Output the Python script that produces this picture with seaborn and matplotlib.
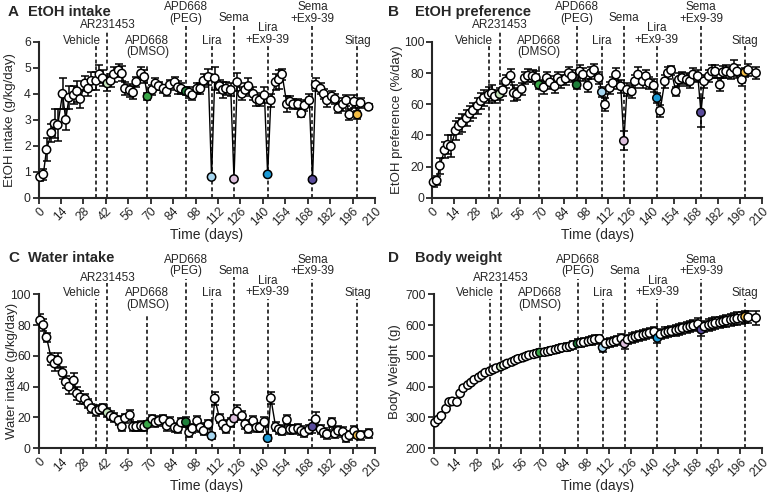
import matplotlib
matplotlib.use("Agg")
import matplotlib.pyplot as plt
import pandas as pd
import seaborn as sns

# sessions (days)
days = [1, 3, 5, 8, 10, 12, 15, 17, 19, 22, 24, 26, 29, 31, 33, 36, 38, 40,
        43, 45, 47, 50, 52, 54, 57, 59, 61, 64, 66, 68, 71, 73, 75, 78, 80, 82,
        85, 87, 89, 92, 94, 96, 99, 101, 103, 106, 108, 110, 113, 115, 117,
        120, 122, 124, 127, 129, 131, 134, 136, 138, 141, 143, 145, 148, 150,
        152, 155, 157, 159, 162, 164, 166, 169, 171, 173, 176, 178, 180, 183,
        185, 187, 190, 192, 194, 197, 199, 201, 206]

etoh_intake = [0.8, 0.9, 1.85, 2.5, 2.85, 2.8, 4.0, 3.0, 3.85, 3.95, 4.1, 3.8,
               4.4, 4.2, 4.5, 4.5, 4.75, 4.6, 4.4, 4.5, 4.75, 4.9, 4.78, 4.2,
               4.14, 4.05, 4.46, 4.78, 4.65, 3.9, 4.15, 4.4, 4.3, 4.2, 4.1, 4.35,
               4.45, 4.25, 4.2, 4.1, 4.05, 3.95, 4.2, 4.2, 4.5, 4.65, 0.8, 4.6,
               4.3, 4.15, 4.2, 4.15, 0.72, 4.45, 4.0, 4.15, 4.3, 4.0, 3.8, 3.75,
               3.95, 0.9, 3.75, 4.45, 4.55, 4.75, 3.6, 3.7, 3.6, 3.6, 3.25, 3.55,
               3.75, 0.7, 4.35, 4.2, 4.0, 3.75, 3.9, 3.8, 3.45, 3.6, 3.75, 3.2,
               3.7, 3.2, 3.65, 3.5]
etoh_intake_sem = [0.15, 0.2, 0.45, 0.35, 0.55, 0.6, 0.6, 0.4, 0.45, 0.35, 0.4, 0.35,
                   0.3, 0.3, 0.35, 0.35, 0.35, 0.3, 0.3, 0.25, 0.3, 0.25, 0.3, 0.25,
                   0.25, 0.25, 0.2, 0.25, 0.25, 0.12, 0.2, 0.2, 0.15, 0.15, 0.2, 0.2,
                   0.2, 0.25, 0.2, 0.15, 0.2, 0.2, 0.2, 0.2, 0.25, 0.3, 0.05, 0.45,
                   0.25, 0.3, 0.25, 0.25, 0.05, 0.35, 0.25, 0.25, 0.3, 0.25, 0.25, 0.2,
                   0.3, 0.05, 0.25, 0.3, 0.35, 0.2, 0.3, 0.2, 0.2, 0.2, 0.15, 0.2,
                   0.25, 0.05, 0.25, 0.2, 0.2, 0.25, 0.2, 0.2, 0.2, 0.25, 0.2, 0.2,
                   0.25, 0.15, 0.2, 0.1]

etoh_pref = [10, 11, 20.5, 30.5, 34, 33, 43, 46, 48, 51, 54, 56,
             59, 62, 64, 66, 67, 65, 66.5, 69, 74.7, 78.3, 67.2, 66.5,
             69.7, 76.8, 78.3, 78, 77, 72.5, 70.8, 76.8, 74, 71.5, 76.8, 74.7,
             76.4, 80, 78, 72.5, 81, 79, 71.9, 80, 82, 76.8, 67.8, 59.7,
             70.4, 73.6, 79, 71.5, 36.5, 69.3, 68.2, 74.7, 79, 74.7, 78, 73.6,
             72, 64, 55.8, 74.7, 80, 81.8, 68.2, 75.7, 76.8, 75.7, 74.7, 79,
             78, 54.7, 74.7, 78, 81, 81, 72.5, 80.5, 81, 80, 83.3, 81,
             75.7, 80.5, 82, 80]
etoh_pref_sem = [3, 3, 5, 5, 6, 7, 6, 5, 6, 5, 5, 5,
                 5, 5, 5, 5, 5, 4, 4, 4, 4, 4, 5, 4,
                 4, 4, 4, 4, 4, 3, 4, 4, 4, 4, 4, 4,
                 4, 4, 4, 3, 4, 4, 4, 4, 4, 4, 3, 4,
                 4, 4, 4, 4, 6, 4, 4, 4, 5, 4, 4, 4,
                 4, 3, 4, 4, 4, 3, 3, 4, 4, 4, 4, 4,
                 4, 9, 4, 4, 4, 4, 4, 4, 4, 4, 5, 4,
                 4, 3, 4, 4]

water_intake = [83, 80, 72, 58, 55, 57, 49, 43, 40, 44, 35.5, 33,
                32, 29, 26, 24, 25, 26, 23, 21, 20, 18, 14, 19.5,
                21.5, 14, 14, 14.5, 14, 15.6, 18.8, 16.7, 17.7, 18.8, 14.5, 17,
                13.4, 12.8, 16.7, 17, 10.2, 12.8, 17.7, 13.4, 11.3, 15.6, 8, 32.3,
                19.3, 15.6, 12.8, 16.7, 19.3, 24, 21, 15.6, 12.8, 17.7, 13.4, 13.4,
                17, 6.5, 32.5, 13.9, 12.3, 11.3, 18.4, 12.3, 12.3, 12.8, 11.3, 10.2,
                12.3, 14, 18.8, 12.3, 10.2, 9.1, 16.7, 9.5, 11.3, 10.6, 6.9, 8.4,
                11.3, 8.4, 8.4, 9.5]
water_intake_sem = [4, 4, 3, 4, 5, 5, 4, 4, 5, 5, 4, 4,
                    3, 3, 3, 3, 3, 3, 3, 3, 3, 3, 3, 3,
                    3, 3, 3, 3, 3, 2, 3, 3, 3, 3, 3, 3,
                    3, 3, 3, 3, 3, 3, 3, 3, 3, 3, 2, 4,
                    3, 3, 3, 3, 2, 4, 3, 3, 3, 3, 3, 3,
                    3, 2, 4, 3, 3, 3, 3, 3, 3, 3, 3, 3,
                    3, 4, 5, 3, 3, 3, 3, 3, 3, 3, 3, 3,
                    3, 2, 3, 3]

body_weight = [283, 293, 305, 328, 350, 352, 350, 378, 395, 405, 413, 422,
               430, 437, 445, 450, 455, 460, 465, 470, 475, 480, 485, 490,
               494, 498, 502, 505, 508, 511, 512, 514, 517, 520, 523, 526,
               528, 531, 535, 540, 542, 544, 547, 550, 553, 555, 527, 540,
               543, 546, 550, 556, 540, 553, 558, 562, 565, 568, 571, 574,
               578, 558, 570, 575, 578, 580, 583, 586, 590, 592, 595, 598,
               603, 585, 595, 600, 603, 606, 608, 611, 614, 617, 619, 621,
               623, 627, 625, 623]
body_weight_sem = [5, 5, 5, 6, 8, 8, 8, 6, 6, 6, 6, 6,
                   6, 7, 7, 7, 7, 7, 8, 8, 8, 8, 8, 9,
                   9, 9, 9, 10, 10, 10, 10, 10, 11, 11, 11, 11,
                   12, 12, 12, 13, 13, 13, 13, 14, 14, 14, 16, 14,
                   15, 15, 15, 15, 18, 16, 16, 16, 16, 16, 17, 17,
                   17, 18, 17, 17, 17, 17, 18, 18, 18, 18, 18, 18,
                   19, 20, 19, 19, 19, 19, 19, 19, 20, 20, 20, 20,
                   20, 20, 20, 22]

drug_days = [36, 43, 68, 92, 108, 122, 143, 171, 199]
drug_labels = ["Vehicle", "AR231453", "APD668\n(DMSO)", "APD668\n(PEG)", "Lira",
               "Sema", "Lira\n+Ex9-39", "Sema\n+Ex9-39", "Sitag"]
drug_colors = {43: "#c6e5bd", 68: "#3aa648", 92: "#1e7f3a", 108: "#a6d6f0",
               122: "#dcbfdc", 143: "#1b9ad6", 171: "#5a4c9c", 199: "#f4bd45"}

# label y (axes frac), dashed line top (axes frac), alignment, x shift (days)
label_layout = [(1.006, 0.97, "right", 2.8), (1.107, 1.075, "center", 0),
                (0.97, 0.86, "center", 0), (1.186, 1.10, "center", 0),
                (1.006, 0.97, "center", 0), (1.15, 1.113, "center", 0),
                (1.05, 0.97, "center", 0), (1.186, 1.10, "center", 0),
                (1.006, 0.97, "center", 0)]

sns.set_theme(style="ticks")
plt.rcParams["font.family"] = ["Liberation Sans", "DejaVu Sans"]


def draw_panel(ax, vals, sem, ylabel, ylim, yticks, ylab_x):
    df = pd.DataFrame({"day": days, "val": vals,
                       "grp": [drug_colors.get(d, "#ffffff") for d in days]})
    ax.errorbar(days, vals, yerr=sem, fmt="none", ecolor="black",
                elinewidth=1.1, capsize=3.2, capthick=1.1, zorder=2)
    sns.lineplot(data=df, x="day", y="val", ax=ax, color="black", lw=1.0,
                 estimator=None, sort=False, zorder=3)
    pal = {c: c for c in df["grp"].unique()}
    sns.scatterplot(data=df, x="day", y="val", hue="grp", palette=pal,
                    edgecolor="black", linewidth=1.1, s=36, legend=False,
                    ax=ax, zorder=4, clip_on=False)
    tr = ax.get_xaxis_transform()
    for d, lab, (ty, ly, ha, dx) in zip(drug_days, drug_labels, label_layout):
        ax.plot([d, d], [0, ly], transform=tr, color="black", lw=1.1,
                ls=(0, (2.6, 1.8)), clip_on=False, zorder=1)
        ax.text(d + dx, ty, lab, transform=tr, ha=ha, va="center",
                fontsize=8.5, linespacing=0.95, clip_on=False)
    ax.set_xlim(0, 210)
    ax.set_ylim(*ylim)
    ax.set_yticks(yticks)
    ax.set_xticks(range(0, 211, 14))
    ax.set_xlabel("Time (days)", fontsize=10, labelpad=0)
    ax.set_ylabel(ylabel, fontsize=9.5)
    ax.yaxis.set_label_coords(ylab_x, 0.5)
    ax.tick_params(axis="both", labelsize=8.8, width=1.3, length=4,
                   direction="out", pad=1.5)
    plt.setp(ax.get_xticklabels(), rotation=45, ha="right",
             rotation_mode="anchor")
    sns.despine(ax=ax)
    for s in ("left", "bottom"):
        ax.spines[s].set_linewidth(1.5)


fig = plt.figure(figsize=(7.7, 4.92), dpi=100)
axA = fig.add_axes([0.05, 0.598, 0.437, 0.317])
axB = fig.add_axes([0.561, 0.598, 0.429, 0.317])
axC = fig.add_axes([0.05, 0.089, 0.437, 0.313])
axD = fig.add_axes([0.563, 0.089, 0.427, 0.313])

draw_panel(axA, etoh_intake, etoh_intake_sem, "EtOH intake (g/kg/day)",
           (0, 6), range(0, 7), -0.066)
draw_panel(axB, etoh_pref, etoh_pref_sem, "EtOH preference (%/day)",
           (0, 100), range(0, 101, 20), -0.088)
draw_panel(axC, water_intake, water_intake_sem, "Water intake (g/kg/day)",
           (0, 100), range(0, 101, 20), -0.062)
draw_panel(axD, body_weight, body_weight_sem, "Body Weight (g)",
           (200, 700), range(200, 701, 100), -0.098)

titles = [("A", "EtOH intake", 8, 28, 12), ("B", "EtOH preference", 388, 415, 12),
          ("C", "Water intake", 8, 28, 258), ("D", "Body weight", 388, 415, 258)]
for letter, title, xl, xt, yy in titles:
    fig.text(xl / 770, 1 - yy / 492, letter, fontsize=11, fontweight="bold", va="center")
    fig.text(xt / 770, 1 - yy / 492, title, fontsize=10.5, fontweight="bold", va="center")

fig.savefig("out.png", dpi=100)
